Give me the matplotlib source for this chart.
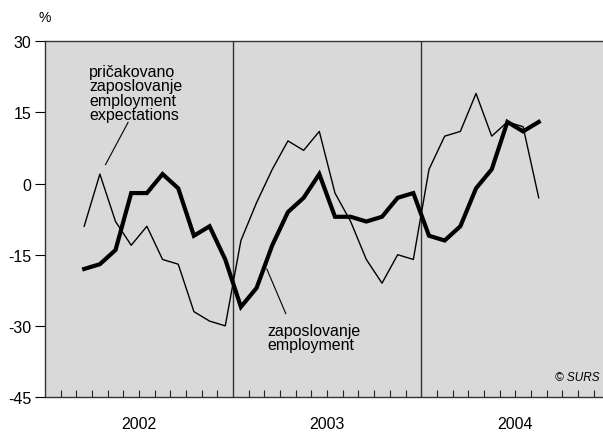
import numpy as np
import matplotlib
matplotlib.use("Agg")
import matplotlib.pyplot as plt

plt.rcParams['font.family'] = ['Liberation Sans', 'DejaVu Sans']

# monthly data, March 2002 .. August 2004
start_month = 2  # index of March 2002 (Jan 2002 = 0)
expectations = [-9, 2, -8, -13, -9, -16, -17, -27, -29, -30,
                -12, -4, 3, 9, 7, 11, -2, -8, -16, -21, -15, -16,
                3, 10, 11, 19, 10, 13, 12, -3]
employment = [-18, -17, -14, -2, -2, 2, -1, -11, -9, -16,
              -26, -22, -13, -6, -3, 2, -7, -7, -8, -7, -3, -2,
              -11, -12, -9, -1, 3, 13, 11, 13]
years = ["2002", "2003", "2004"]
y_ticks = [30, 15, 0, -15, -30, -45]

BG = "#d9d9d9"

fig = plt.figure(figsize=(6.03, 4.35), dpi=100)
ax = fig.add_axes([45 / 603, 1 - 398 / 435, 1 - 45 / 603, (398 - 42.3) / 435])
ax.set_facecolor(BG)

x = np.arange(len(expectations)) + start_month + 0.5
ax.plot(x, expectations, color="black", lw=1.0, zorder=3)
ax.plot(x, employment, color="black", lw=3.0, zorder=4,
        solid_joinstyle="miter")

ax.set_xlim(0, 35.6)
ax.set_ylim(-45, 30)

# year separators
for b in (12, 24):
    ax.axvline(b, color="#333333", lw=1.0, zorder=2)

# month ticks inside
ax.set_xticks([m for m in range(1, 36) if m not in (12, 24)])
ax.tick_params(axis="x", direction="in", length=5, width=0.8,
               labelbottom=False, color="#222222")
for i, yr in enumerate(years):
    ax.text(6 + 12 * i, -50.5, yr, ha="center", va="center", fontsize=11.5)

ax.set_yticks(y_ticks)
ax.set_yticklabels([str(v) for v in y_ticks], fontsize=11.5)
ax.tick_params(axis="y", direction="out", length=7, width=0.8, pad=3)

ax.spines["right"].set_visible(False)
for s in ("left", "top", "bottom"):
    ax.spines[s].set_color("#333333")
    ax.spines[s].set_linewidth(1.0)

fig.text(45 / 603, 1 - 18 / 435, "%", ha="center", va="center", fontsize=10)

ax.text(2.8, 25.2, "pričakovano\nzaposlovanje\nemployment\nexpectations",
        ha="left", va="top", fontsize=11.5, linespacing=0.95)
ax.plot([5.3, 3.86], [12.9, 4.0], color="black", lw=0.8, zorder=3)

ax.text(14.2, -29.3, "zaposlovanje\nemployment", ha="left", va="top",
        fontsize=11.5, linespacing=0.95)
ax.plot([14.15, 15.36], [-18.0, -27.4], color="black", lw=0.8, zorder=3)

ax.text(35.4, -40.8, "© SURS", ha="right", va="center", fontsize=8.5,
        style="italic")

fig.savefig("out.png", dpi=100)
